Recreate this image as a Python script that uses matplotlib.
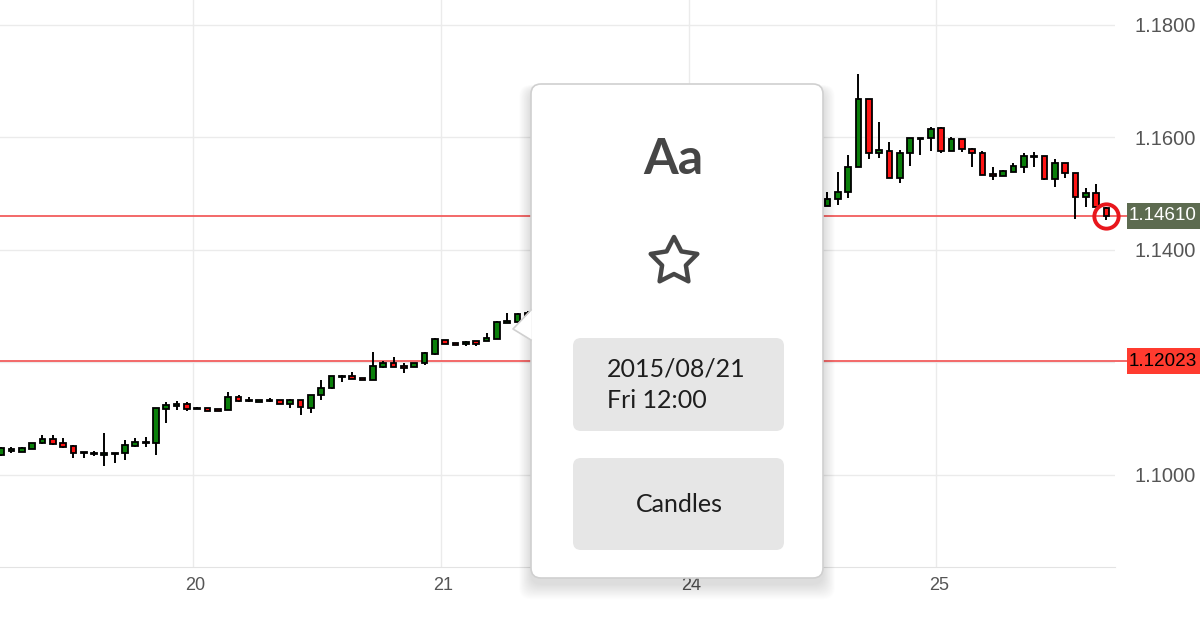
import numpy as np
import matplotlib
matplotlib.use("Agg")
import matplotlib.pyplot as plt
from matplotlib.patches import FancyBboxPatch, Polygon, Rectangle
from matplotlib.transforms import blended_transform_factory, ScaledTranslation

# EUR/USD hourly candles, hours counted from Thu 2015-08-20 00:00 (weekend skipped)
# hours 33..60 sit behind the popup and are not shown
hours = list(range(-19, 33)) + list(range(61, 89))

opens = [1.10356, 1.10421, 1.10414, 1.10462, 1.10563, 1.10640, 1.10574, 1.10515, 1.10414, 1.10396,
         1.10361, 1.10396, 1.10385, 1.10521, 1.10563, 1.10563, 1.11178, 1.11232, 1.11257, 1.11173,
         1.11196, 1.11173, 1.11155, 1.11392, 1.11333, 1.11303, 1.11315, 1.11333, 1.11257, 1.11333,
         1.11185, 1.11422, 1.11541, 1.11737, 1.11760, 1.11724, 1.11689, 1.11925, 1.11996, 1.11937,
         1.11925, 1.11996, 1.12145, 1.12400, 1.12341, 1.12323, 1.12377, 1.12377, 1.12418, 1.12707,
         1.12714, 1.12886,
         1.14782, 1.14901, 1.15036, 1.15470, 1.16679, 1.15719, 1.15765, 1.15275, 1.15730, 1.15973,
         1.15986, 1.16164, 1.15765, 1.15968, 1.15790, 1.15719, 1.15351, 1.15316, 1.15392, 1.15481,
         1.15671, 1.15671, 1.15262, 1.15552, 1.15374, 1.14937, 1.15008, 1.14741]
highs = [1.10492, 1.10492, 1.10492, 1.10576, 1.10711, 1.10711, 1.10652, 1.10533, 1.10414, 1.10426,
         1.10741, 1.10396, 1.10622, 1.10663, 1.10681, 1.11185, 1.11303, 1.11315, 1.11303, 1.11200,
         1.11196, 1.11173, 1.11470, 1.11422, 1.11381, 1.11340, 1.11374, 1.11333, 1.11345, 1.11333,
         1.11422, 1.11689, 1.11760, 1.11783, 1.11836, 1.11724, 1.12192, 1.12032, 1.12103, 1.11996,
         1.11996, 1.12192, 1.12430, 1.12400, 1.12341, 1.12382, 1.12377, 1.12519, 1.12743, 1.12874,
         1.12886, 1.12919,
         1.15036, 1.15392, 1.15689, 1.17120, 1.16679, 1.16270, 1.15925, 1.15778, 1.15986, 1.15996,
         1.16192, 1.16192, 1.16014, 1.15968, 1.15819, 1.15765, 1.15481, 1.15422, 1.15552, 1.15730,
         1.15748, 1.15671, 1.15612, 1.15552, 1.15374, 1.15108, 1.15173, 1.14770]
lows = [1.10338, 1.10396, 1.10409, 1.10460, 1.10545, 1.10533, 1.10474, 1.10307, 1.10297, 1.10338,
        1.10160, 1.10218, 1.10266, 1.10503, 1.10503, 1.10356, 1.10929, 1.11155, 1.11143, 1.11168,
        1.11143, 1.11143, 1.11155, 1.11292, 1.11292, 1.11300, 1.11303, 1.11262, 1.11185, 1.11066,
        1.11107, 1.11333, 1.11530, 1.11658, 1.11701, 1.11689, 1.11689, 1.11897, 1.11914, 1.11818,
        1.11914, 1.11955, 1.12133, 1.12329, 1.12311, 1.12293, 1.12288, 1.12377, 1.12418, 1.12707,
        1.12714, 1.12827,
        1.14782, 1.14800, 1.14919, 1.15470, 1.15618, 1.15630, 1.15275, 1.15186, 1.15493, 1.15689,
        1.15765, 1.15730, 1.15765, 1.15748, 1.15481, 1.15333, 1.15244, 1.15316, 1.15392, 1.15364,
        1.15481, 1.15244, 1.15125, 1.15275, 1.14546, 1.14770, 1.14770, 1.14533]
closes = [1.10475, 1.10457, 1.10480, 1.10574, 1.10640, 1.10551, 1.10503, 1.10396, 1.10385, 1.10373,
          1.10396, 1.10373, 1.10533, 1.10592, 1.10592, 1.11185, 1.11244, 1.11257, 1.11173, 1.11196,
          1.11143, 1.11143, 1.11392, 1.11315, 1.11310, 1.11333, 1.11338, 1.11262, 1.11333, 1.11214,
          1.11422, 1.11541, 1.11760, 1.11760, 1.11701, 1.11689, 1.11937, 1.11996, 1.11925, 1.11907,
          1.11996, 1.12174, 1.12412, 1.12329, 1.12311, 1.12359, 1.12337, 1.12430, 1.12714, 1.12737,
          1.12862, 1.12827,
          1.14901, 1.15036, 1.15470, 1.16679, 1.15719, 1.15778, 1.15275, 1.15719, 1.15986, 1.15996,
          1.16146, 1.15765, 1.15968, 1.15790, 1.15719, 1.15333, 1.15316, 1.15404, 1.15493, 1.15671,
          1.15648, 1.15262, 1.15541, 1.15364, 1.14937, 1.15008, 1.14770, 1.14610]

day_hours = [0, 24, 48, 72]
day_labels = ["20", "21", "24", "25"]
y_ticks = [1.10, 1.12, 1.14, 1.16, 1.18]

last_price = 1.14610
level_price = 1.12023

# popup texts
popup_date = "2015/08/21\nFri 12:00"
popup_type = "Candles"

fig = plt.figure(figsize=(12, 6.2), dpi=100)
ax = fig.add_axes([0, 53 / 620, 1115 / 1200, 567 / 620])

x = np.array(hours) + 0.45
o = np.array(opens)
h = np.array(highs)
l = np.array(lows)
c = np.array(closes)
up = c >= o
colors = np.where(up, "#0a7f0a", "#ff1414")

ax.vlines(x, l, h, color="black", lw=1.4, zorder=3)
bottom = np.minimum(o, c)
height = np.maximum(np.abs(c - o), 0.00004)
ax.bar(x, height, bottom=bottom, width=0.55, color=colors,
       edgecolor="black", linewidth=1.3, zorder=4)

ax.set_xlim(-18.65, 89.28)
ax.set_ylim(1.08364, 1.18444)

ax.set_xticks(day_hours)
ax.set_xticklabels(day_labels)
ax.set_yticks(y_ticks)
# the 1.1200 label sits under the level box, so it is left blank
ax.set_yticklabels(["" if abs(v - 1.12) < 1e-9 else f"{v:.4f}" for v in y_ticks])
ax.yaxis.tick_right()
ax.tick_params(axis="y", length=0, pad=14, labelsize=14.5, labelcolor="#555555")
ax.tick_params(axis="x", length=0, pad=7, labelsize=13, labelcolor="#555555")
for lab in ax.get_xticklabels():
    lab.set_transform(lab.get_transform() + ScaledTranslation(3 / 100, 0, fig.dpi_scale_trans))
for lab in ax.get_xticklabels() + ax.get_yticklabels():
    lab.set_fontfamily("Liberation Sans")

ax.grid(True, color="#ebebeb", lw=1)
ax.set_axisbelow(True)
for s in ["top", "left", "right"]:
    ax.spines[s].set_visible(False)
ax.spines["bottom"].set_color("#e3e3e3")

# price lines with right-hand labels
tr = blended_transform_factory(ax.transAxes, ax.transData)
px = (ax.get_ylim()[1] - ax.get_ylim()[0]) / 567  # price per pixel
for price, fc, tc in [(last_price, "#5d6b50", "white"), (level_price, "#ff3b2f", "black")]:
    ax.plot([0, 1.0108], [price, price], color="#f25d5d", lw=1.3, transform=tr,
            clip_on=False, zorder=2)
    ax.add_patch(Rectangle((1127 / 1115, price - 13 * px), 80 / 1115, 26 * px, transform=tr,
                           fc=fc, ec="none", clip_on=False, zorder=5))
    ax.text(1129 / 1115, price, f"{price:.5f}", transform=tr, ha="left", va="center",
            color=tc, fontsize=13.6, family="Liberation Sans", clip_on=False, zorder=6)

ax.plot(x[-1], c[-1], "o", ms=17.5, mfc="none", mec="#e8161c", mew=2.8, zorder=7,
        clip_on=False)

# popup overlay in pixel coordinates
ov = fig.add_axes([0, 0, 1, 1], zorder=10)
ov.set_xlim(0, 1200)
ov.set_ylim(620, 0)
ov.axis("off")
ov.patch.set_alpha(0)

for k in range(1, 18):
    ov.add_patch(FancyBboxPatch((531 - k * 0.7, 90 - k * 0.3), 292 + k * 1.4, 494 + k * 1.2,
                                boxstyle="round,pad=0,rounding_size=12", fc="black",
                                ec="none", alpha=0.008))
ov.add_patch(FancyBboxPatch((531, 84), 292, 494, boxstyle="round,pad=0,rounding_size=10",
                            fc="white", ec="#d0d0d0", lw=1.2))
ov.add_patch(Polygon([(531.8, 310), (513, 329), (531.8, 340)], closed=True, fc="white", ec="none"))
ov.plot([531, 513, 531], [310, 329, 340], color="#d0d0d0", lw=1.2)

ov.text(673, 160, "Aa", ha="center", va="center", fontsize=36, fontweight="bold",
        color="#464646", family="Lato")

cx, cy, R, r = 674, 261.5, 24.5, 12.5
ang = np.pi / 2 + np.arange(10) * np.pi / 5
rad = np.where(np.arange(10) % 2 == 0, R, r)
star = np.column_stack([cx + rad * np.cos(ang), cy - rad * np.sin(ang)])
ov.add_patch(Polygon(star, closed=True, fc="none", ec="#474747", lw=3.2, joinstyle="round"))

ov.add_patch(FancyBboxPatch((573, 338), 211, 93, boxstyle="round,pad=0,rounding_size=8",
                            fc="#e6e6e6", ec="none"))
ov.text(607, 385, popup_date, ha="left", va="center", fontsize=18, linespacing=1.45,
        color="#1e1e1e", family="Lato")
ov.add_patch(FancyBboxPatch((573, 458), 211, 92, boxstyle="round,pad=0,rounding_size=8",
                            fc="#e6e6e6", ec="none"))
ov.text(679, 504, popup_type, ha="center", va="center", fontsize=18,
        color="#1e1e1e", family="Lato")

fig.savefig("out.png", dpi=100)
